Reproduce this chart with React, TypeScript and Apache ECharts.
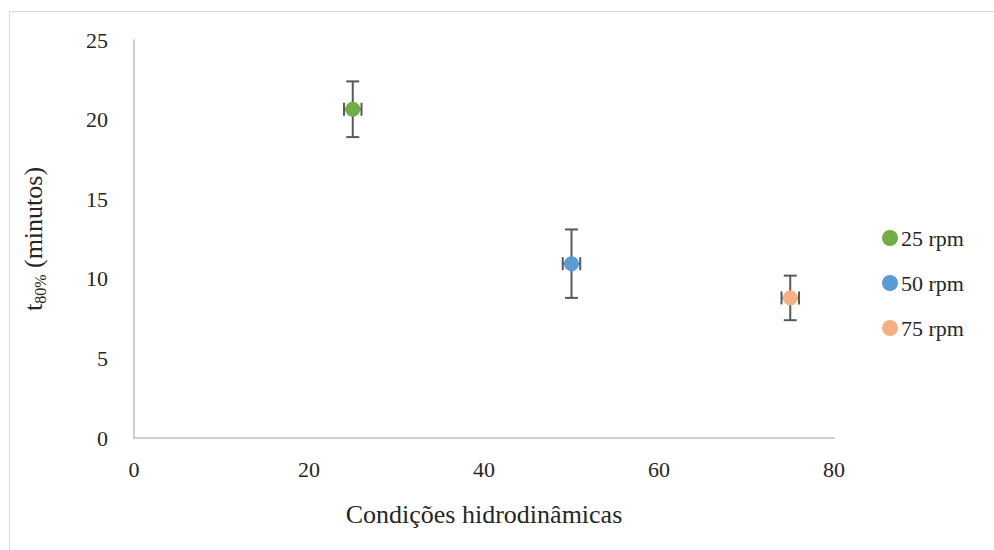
import React, { useEffect, useRef } from "react";
import * as echarts from "echarts";

// Rotation speed (rpm) and time to 80% dissolution (minutes)
const seriesNames = ["25 rpm", "50 rpm", "75 rpm"];
const speeds = [25, 50, 75];
const t80 = [20.65, 10.95, 8.8];
const t80Err = [1.75, 2.15, 1.4];
const speedErr = [1, 1, 1];
const colors = ["#70ad47", "#5b9bd5", "#f4b183"];

const xTicks = { min: 0, max: 80, interval: 20 };
const yTicks = { min: 0, max: 25, interval: 5 };

const FONT = '"Liberation Serif", "Times New Roman", serif';
const TEXT = "#262626";
const ERR_COLOR = "#595959";

export default function App() {
  const ref = useRef<HTMLDivElement>(null);

  useEffect(() => {
    if (!ref.current) return;
    const chart = echarts.init(ref.current, undefined, { renderer: "svg" });

    const errData = speeds.map((x, i) => [x, t80[i], t80Err[i], speedErr[i]]);

    const option: any = {
      animation: false,
      backgroundColor: "#ffffff",
      textStyle: { fontFamily: FONT },
      graphic: [
        {
          type: "rect",
          shape: { x: 9.5, y: 11.5, width: 1000, height: 560 },
          style: { fill: "none", stroke: "#d9d9d9", lineWidth: 1 },
          silent: true,
          z: -10,
        },
      ],
      grid: { left: 134, top: 40, width: 700, height: 398, containLabel: false },
      legend: {
        data: seriesNames,
        orient: "vertical",
        left: 877,
        top: 222,
        itemGap: 23,
        icon: "circle",
        itemWidth: 16,
        itemHeight: 16,
        textStyle: { fontFamily: FONT, fontSize: 22, color: TEXT, padding: [0, 0, 0, -2] },
      },
      xAxis: {
        type: "value",
        ...xTicks,
        name: "Condições hidrodinâmicas",
        nameLocation: "middle",
        nameGap: 63,
        nameTextStyle: { fontFamily: FONT, fontSize: 26, color: TEXT },
        axisLine: { show: true, lineStyle: { color: "#bfbfbf", width: 1.5 } },
        axisTick: { show: false },
        splitLine: { show: false },
        axisLabel: { fontFamily: FONT, fontSize: 22, color: TEXT, margin: 20 },
      },
      yAxis: {
        type: "value",
        ...yTicks,
        name: "{t|t}{s|80%}{t| (minutos)}",
        nameLocation: "middle",
        nameRotate: 90,
        nameGap: 86,
        nameTextStyle: {
          fontFamily: FONT,
          color: TEXT,
          rich: {
            t: { fontFamily: FONT, fontSize: 26, lineHeight: 30, color: TEXT, verticalAlign: "middle" },
            s: { fontFamily: FONT, fontSize: 16, lineHeight: 30, color: TEXT, verticalAlign: "bottom" },
          },
        },
        axisLine: { show: true, lineStyle: { color: "#bfbfbf", width: 1.5 } },
        axisTick: { show: false },
        splitLine: { show: false },
        axisLabel: { fontFamily: FONT, fontSize: 22, color: TEXT, margin: 26 },
      },
      series: [
        {
          type: "custom",
          name: "erro",
          data: errData,
          z: 1,
          renderItem: (params: any, api: any) => {
            const x = api.value(0);
            const y = api.value(1);
            const ey = api.value(2);
            const ex = api.value(3);
            const top = api.coord([x, y + ey]);
            const bot = api.coord([x, y - ey]);
            const left = api.coord([x - ex, y]);
            const right = api.coord([x + ex, y]);
            const cap = 6.5;
            const hcap = 6.5;
            const style = { stroke: ERR_COLOR, lineWidth: 2 };
            return {
              type: "group",
              children: [
                { type: "line", shape: { x1: top[0], y1: top[1], x2: bot[0], y2: bot[1] }, style },
                { type: "line", shape: { x1: top[0] - cap, y1: top[1], x2: top[0] + cap, y2: top[1] }, style },
                { type: "line", shape: { x1: bot[0] - cap, y1: bot[1], x2: bot[0] + cap, y2: bot[1] }, style },
                { type: "line", shape: { x1: left[0], y1: left[1], x2: right[0], y2: right[1] }, style },
                { type: "line", shape: { x1: left[0], y1: left[1] - hcap, x2: left[0], y2: left[1] + hcap }, style },
                { type: "line", shape: { x1: right[0], y1: right[1] - hcap, x2: right[0], y2: right[1] + hcap }, style },
              ],
            };
          },
        },
        ...seriesNames.map((name, i) => ({
          type: "scatter",
          name,
          data: [[speeds[i], t80[i]]],
          symbol: "circle",
          symbolSize: 15,
          itemStyle: { color: colors[i], opacity: 1 },
          z: 3,
        })),
      ],
    };

    chart.setOption(option);
    return () => chart.dispose();
  }, []);

  return (
    <div
      ref={ref}
      style={{ position: "fixed", left: 0, top: 0, width: 994, height: 550, background: "#fff" }}
    />
  );
}
